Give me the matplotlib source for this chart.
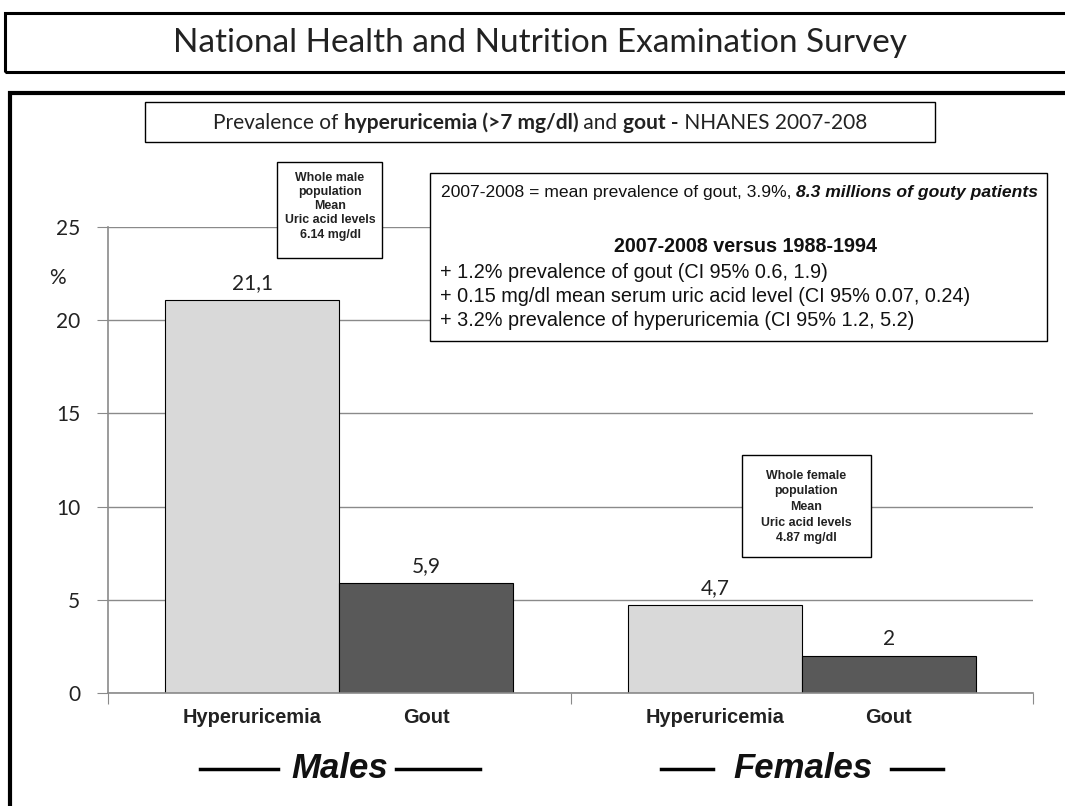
import matplotlib
matplotlib.use("Agg")
import matplotlib.pyplot as plt
from matplotlib.patches import Rectangle
from matplotlib import font_manager
import numpy as np

# ---- data ----
groups = ["Males", "Females"]
categories = ["Hyperuricemia", "Gout"]
hyper_values = [21.1, 4.7]
gout_values = [5.9, 2.0]
value_labels_hyper = ["21,1", "4,7"]
value_labels_gout = ["5,9", "2"]
yticks = [0, 5, 10, 15, 20, 25]

W, H = 1065, 806
fig = plt.figure(figsize=(W / 100, H / 100), dpi=100)

def fx(x):
    return x / W

def fy(y):
    return 1 - y / H

CAL = ["Lato", "DejaVu Sans"]
ARIAL = ["Liberation Sans", "DejaVu Sans"]

try:
    font_manager.findfont(font_manager.FontProperties(family="Liberation Sans Narrow", weight="bold"),
                          fallback_to_default=False)
    HAS_NARROW = True
except Exception:
    HAS_NARROW = False
NARROW = ["Liberation Sans Narrow", "Liberation Sans"] if HAS_NARROW else ARIAL
big_size = 29 if HAS_NARROW else 25
cat_size = 17 if HAS_NARROW else 14.4

# outer boxes
fig.patches.append(Rectangle((fx(5), fy(72)), fx(1080), 59 / H, transform=fig.transFigure,
                             fill=False, lw=2.2, ec="black"))
fig.patches.append(Rectangle((fx(10), fy(815)), fx(1080), 722 / H, transform=fig.transFigure,
                             fill=False, lw=3, ec="black"))
fig.text(fx(540), fy(43), "National Health and Nutrition Examination Survey",
         family=CAL, fontsize=24, ha="center", va="center", color="#222222")

# subtitle box
fig.patches.append(Rectangle((fx(145), fy(142)), fx(790), 40 / H, transform=fig.transFigure,
                             fill=False, lw=1, ec="black"))

# axes
ax = fig.add_axes([fx(108), fy(693), (1033 - 108) / W, (693 - 227) / H])
x = np.array([0.5, 1.5])
bw = 0.376
ax.bar(x - bw / 2, hyper_values, bw, color="#d9d9d9", edgecolor="black", lw=0.8, zorder=3)
ax.bar(x + bw / 2, gout_values, bw, color="#595959", edgecolor="black", lw=0.8, zorder=3)
ax.set_xlim(0, 2)
ax.set_ylim(0, 25)
ax.set_yticks(yticks)
ax.set_yticklabels([str(v) for v in yticks], family=CAL, fontsize=15, color="#222222")
ax.yaxis.grid(True, color="#8a8a8a", lw=1, zorder=0)
ax.set_xticks([0, 1, 2])
ax.set_xticklabels([])
ax.tick_params(axis="x", length=8, color="#8a8a8a", direction="out")
ax.tick_params(axis="y", length=8, color="#8a8a8a", direction="out", pad=12)
for s in ["top", "right"]:
    ax.spines[s].set_visible(False)
for s in ["left", "bottom"]:
    ax.spines[s].set_color("#8a8a8a")
    ax.spines[s].set_linewidth(1.2)
ax.spines["bottom"].set_zorder(4)

for i in range(2):
    ax.annotate(value_labels_hyper[i], (x[i] - bw / 2, hyper_values[i]), xytext=(0, 5),
                textcoords="offset points", ha="center", va="bottom", family=CAL,
                fontsize=15, color="#222222")
    ax.annotate(value_labels_gout[i], (x[i] + bw / 2, gout_values[i]), xytext=(0, 5),
                textcoords="offset points", ha="center", va="bottom", family=CAL,
                fontsize=15, color="#222222")
    ax.annotate(categories[0], (x[i] - bw / 2, 0), xytext=(0, -11), textcoords="offset points",
                ha="center", va="top", family=NARROW, fontweight="bold", fontsize=cat_size,
                color="#222222")
    ax.annotate(categories[1], (x[i] + bw / 2, 0), xytext=(0, -11), textcoords="offset points",
                ha="center", va="top", family=NARROW, fontweight="bold", fontsize=cat_size,
                color="#222222")

fig.text(fx(57), fy(278), "%", family=CAL, fontsize=15, ha="center", va="center", color="#222222")

# group labels with dashes
fig.text(fx(340), fy(768), groups[0], family=NARROW, fontweight="bold", style="italic",
         fontsize=big_size, ha="center", va="center", color="#111111")
fig.text(fx(803), fy(768), groups[1], family=NARROW, fontweight="bold", style="italic",
         fontsize=big_size, ha="center", va="center", color="#111111")
for (a, b) in [(200, 278), (396, 480), (661, 713), (891, 943)]:
    fig.add_artist(plt.Line2D([fx(a), fx(b)], [fy(769), fy(769)], transform=fig.transFigure,
                              color="black", lw=2.5))

renderer = fig.canvas.get_renderer()

def runs(pieces, x0, y, center=False):
    arts = []
    widths = []
    for t, kw in pieces:
        a = fig.text(0, fy(y), t, va="center", ha="left", **kw)
        bb = a.get_window_extent(renderer)
        arts.append(a)
        widths.append(bb.width)
    total = sum(widths)
    cur = x0 - total / 2 if center else x0
    for a, w in zip(arts, widths):
        a.set_x(fx(cur))
        cur += w

sub_norm = dict(family=CAL, fontsize=15, color="#222222")
sub_bold = dict(family=CAL, fontsize=15, color="#222222", fontweight="bold")
runs([("Prevalence of ", sub_norm), ("hyperuricemia (>7 mg/dl)", sub_bold), (" and ", sub_norm),
      ("gout -", sub_bold), (" NHANES 2007-208", sub_norm)], 540, 123, center=True)

# male annotation box
fig.patches.append(Rectangle((fx(277), fy(258)), 105 / W, 96 / H, transform=fig.transFigure,
                             fc="white", ec="black", lw=1, zorder=5))
fig.text(fx(330), fy(206), "Whole male\npopulation\nMean\nUric acid levels\n6.14 mg/dl",
         family=ARIAL, fontweight="bold", fontsize=8.9, ha="center", va="center",
         linespacing=1.25, color="#222222", zorder=6)

# female annotation box
fig.patches.append(Rectangle((fx(742), fy(557)), 129 / W, 102 / H, transform=fig.transFigure,
                             fc="white", ec="black", lw=1, zorder=5))
fig.text(fx(806), fy(507), "Whole female\npopulation\nMean\nUric acid levels\n4.87 mg/dl",
         family=ARIAL, fontweight="bold", fontsize=8.9, ha="center", va="center",
         linespacing=1.4, color="#222222", zorder=6)

# info box
fig.patches.append(Rectangle((fx(430), fy(341)), 617 / W, 168 / H, transform=fig.transFigure,
                             fc="white", ec="black", lw=1, zorder=5))
inf1 = dict(family=ARIAL, fontsize=12.6, color="#111111", zorder=6)
infbi = dict(family=ARIAL, fontsize=12.6, color="#111111", fontweight="bold", style="italic", zorder=6)
runs([("2007-2008 = mean prevalence of gout, 3.9%, ", inf1),
      ("8.3 millions of gouty patients", infbi)], 441, 193)
fig.text(fx(746), fy(247), "2007-2008 versus 1988-1994", family=ARIAL, fontsize=14.2,
         fontweight="bold", ha="center", va="center", color="#111111", zorder=6)
info_lines = ["+ 1.2% prevalence of gout (CI 95% 0.6, 1.9)",
              "+ 0.15 mg/dl mean serum uric acid level (CI 95% 0.07, 0.24)",
              "+ 3.2% prevalence of hyperuricemia (CI 95% 1.2, 5.2)"]
for i, t in enumerate(info_lines):
    fig.text(fx(440), fy(272 + 24 * i), t, ha="left", va="center", family=ARIAL,
             fontsize=14.3, color="#111111", zorder=6)

fig.savefig("out.png", dpi=100)
